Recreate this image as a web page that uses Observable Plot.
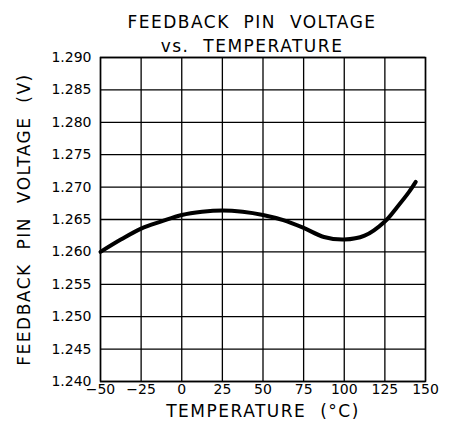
<!DOCTYPE html>
<html>
<head>
<meta charset="utf-8">
<script src="https://cdn.jsdelivr.net/npm/d3@7"></script>
<script src="https://cdn.jsdelivr.net/npm/@observablehq/plot@0.6"></script>
<style>
html, body { margin: 0; padding: 0; background: #fff; }
#chart svg { display: block; }
</style>
</head>
<body>
<div id="chart"></div>
<script>
const temperature = [-50, -37.5, -25, -12.5, 0, 12.5, 25, 37.5, 50, 62.5, 75, 87.5, 100, 112.5, 125, 132.5, 140, 144];
const voltage = [1.2600, 1.2619, 1.2636, 1.2647, 1.2657, 1.2662, 1.2664, 1.2662, 1.2657, 1.2649, 1.2637, 1.2623, 1.2619, 1.2625, 1.2647, 1.2669, 1.2693, 1.2708];
const xTicks = [-50, -25, 0, 25, 50, 75, 100, 125, 150];
const yTicks = [1.240, 1.245, 1.250, 1.255, 1.260, 1.265, 1.270, 1.275, 1.280, 1.285, 1.290];
const titleLines = ["FEEDBACK  PIN  VOLTAGE", "vs.  TEMPERATURE"];
const xLabel = "TEMPERATURE  (°C)";
const yLabel = "FEEDBACK  PIN  VOLTAGE  (V)";

const data = temperature.map((t, i) => ({t, v: voltage[i]}));
const font = "DejaVu Sans, sans-serif";

const chart = Plot.plot({
  width: 451,
  height: 437,
  marginLeft: 100,
  marginRight: 26,
  marginTop: 57,
  marginBottom: 56,
  style: {fontFamily: font, fontSize: "14px", color: "#000", background: "#fff"},
  x: {domain: [-50, 150], ticks: xTicks, tickSize: 0, tickPadding: 3, label: null,
      tickFormat: d => String(d).replace("-", "\u2212")},
  y: {domain: [1.240, 1.290], ticks: yTicks, tickSize: 0, tickPadding: 9, tickFormat: d => d.toFixed(3), label: null},
  marks: [
    Plot.gridX(xTicks, {stroke: "#000", strokeOpacity: 1, strokeWidth: 1.3}),
    Plot.gridY(yTicks, {stroke: "#000", strokeOpacity: 1, strokeWidth: 1.3}),
    Plot.frame({stroke: "#000", strokeWidth: 1.5}),
    Plot.line(data, {x: "t", y: "v", stroke: "#000", strokeWidth: 4, curve: "catmull-rom"}),
    Plot.text([titleLines[0]], {frameAnchor: "top", textAnchor: "middle", dx: -11, dy: -42, text: d => d, fontSize: 17, fontFamily: font, className: "lbl"}),
    Plot.text([titleLines[1]], {frameAnchor: "top", textAnchor: "middle", dx: -11, dy: -18, text: d => d, fontSize: 17, fontFamily: font, className: "lbl"}),
    Plot.text([xLabel], {frameAnchor: "bottom", textAnchor: "middle", dy: 35, text: d => d, fontSize: 17, fontFamily: font, className: "lbl"}),
    Plot.text([yLabel], {frameAnchor: "left", textAnchor: "middle", dx: -76, rotate: -90, text: d => d, fontSize: 17, fontFamily: font, className: "lbl"})
  ]
});
chart.querySelectorAll("text").forEach(t => { t.setAttribute("xml:space", "preserve"); t.style.whiteSpace = "pre"; });
chart.querySelectorAll(".lbl text").forEach(t => { t.style.letterSpacing = "1.5px"; });
document.getElementById("chart").append(chart);
</script>
</body>
</html>
